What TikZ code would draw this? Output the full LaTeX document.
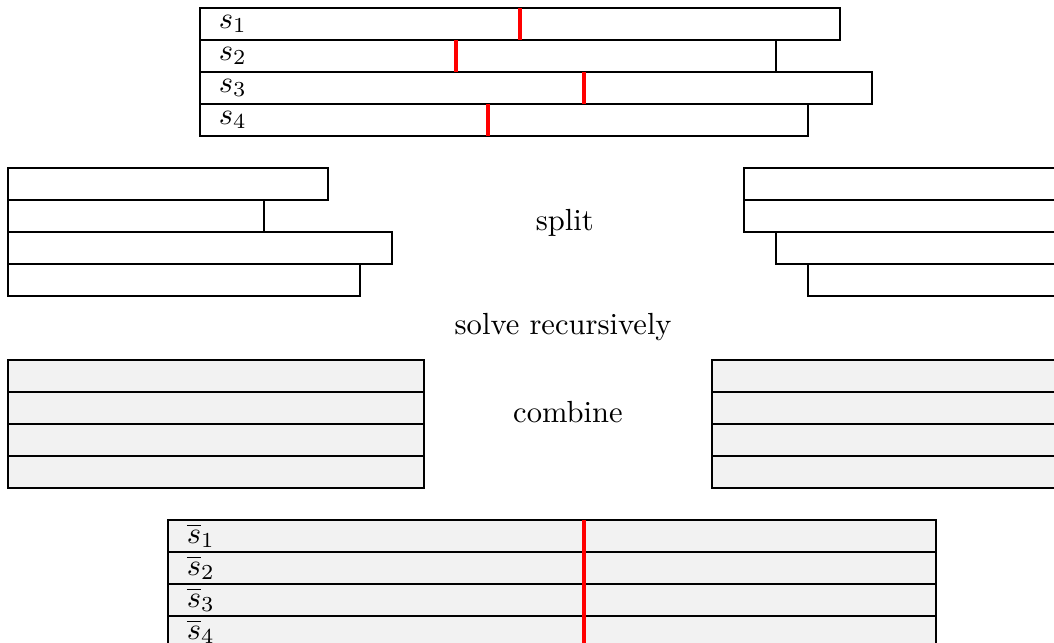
\documentclass[tikz,border=0pt]{standalone}
\begin{document}
\begin{tikzpicture}[x=0.368cm, y=0.368cm, row/.style={draw, line width=0.5pt}, merged/.style={draw, line width=0.5pt, fill=gray!10}, cut/.style={red, line width=1.6pt}, every node/.style={inner sep=3.33pt}]
\clip (-0.25,0.25) rectangle (32.69,-19.84);
% input strings
\draw[row] (6,0) rectangle (26,-1);
\draw[row] (6,-1) rectangle (24,-2);
\draw[row] (6,-2) rectangle (27,-3);
\draw[row] (6,-3) rectangle (25,-4);
\draw[cut] (16,0) -- (16,-1);
\draw[cut] (14,-1) -- (14,-2);
\draw[cut] (18,-2) -- (18,-3);
\draw[cut] (15,-3) -- (15,-4);
\node[right] (s1) at (6.25,-0.5) {$s_1$};
\node[right] (s2) at (6.25,-1.5) {$s_2$};
\node[right] (s3) at (6.25,-2.5) {$s_3$};
\node[right] (s4) at (6.25,-3.5) {$s_4$};
% split parts
\draw[row] (0,-5) rectangle (10,-6);
\draw[row] (0,-6) rectangle (8,-7);
\draw[row] (0,-7) rectangle (12,-8);
\draw[row] (0,-8) rectangle (11,-9);
\draw[row] (23,-5) rectangle (34,-6);
\draw[row] (23,-6) rectangle (34,-7);
\draw[row] (24,-7) rectangle (34,-8);
\draw[row] (25,-8) rectangle (34,-9);
\node (split) at (17.4,-6.72) {split};
\node (solve) at (17.35,-9.97) {solve recursively};
% solved parts
\draw[merged] (0,-11) rectangle (13,-12);
\draw[merged] (0,-12) rectangle (13,-13);
\draw[merged] (0,-13) rectangle (13,-14);
\draw[merged] (0,-14) rectangle (13,-15);
\draw[merged] (22,-11) rectangle (34,-12);
\draw[merged] (22,-12) rectangle (34,-13);
\draw[merged] (22,-13) rectangle (34,-14);
\draw[merged] (22,-14) rectangle (34,-15);
\node (combine) at (17.5,-12.63) {combine};
% result
\draw[merged] (5,-16) rectangle (29,-17);
\draw[merged] (5,-17) rectangle (29,-18);
\draw[merged] (5,-18) rectangle (29,-19);
\draw[merged] (5,-19) rectangle (29,-20);
\draw[cut] (18,-16) -- (18,-20);
\node[right] (t1) at (5.25,-16.5) {$\overline{s}_1$};
\node[right] (t2) at (5.25,-17.5) {$\overline{s}_2$};
\node[right] (t3) at (5.25,-18.5) {$\overline{s}_3$};
\node[right] (t4) at (5.25,-19.5) {$\overline{s}_4$};
\end{tikzpicture}
\end{document}
